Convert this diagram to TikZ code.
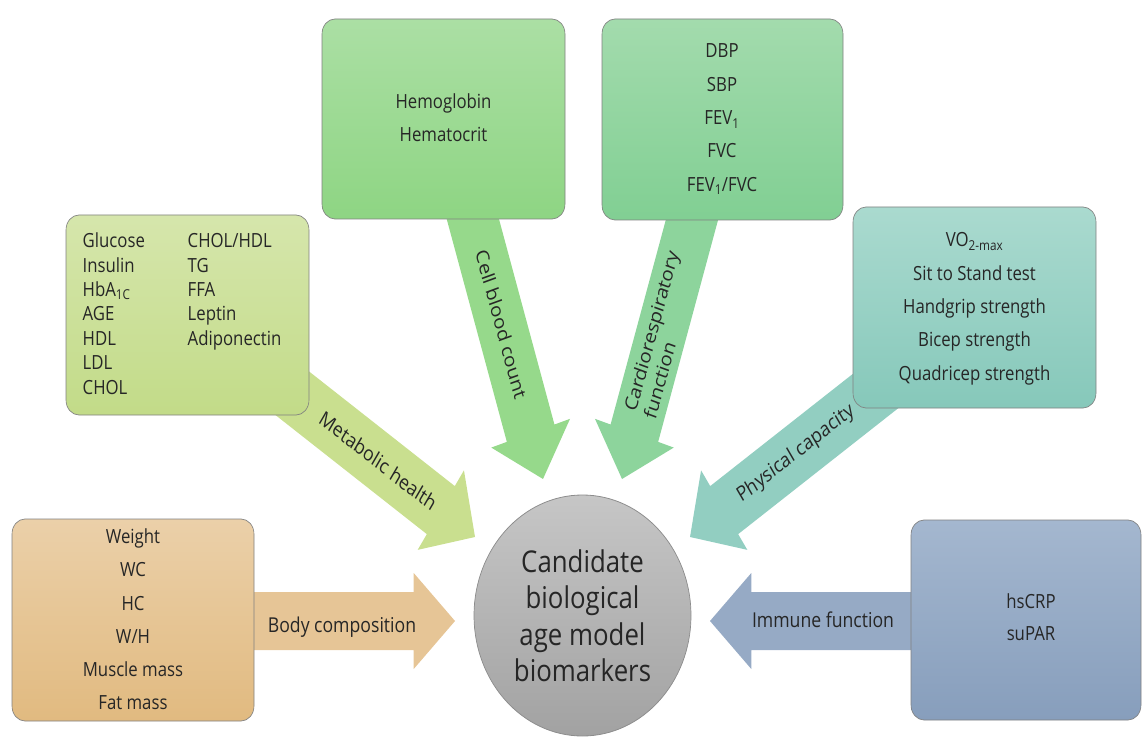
\documentclass[tikz,border=0pt]{standalone}
\usepackage{fontspec}
\setmainfont{Open Sans}
\usetikzlibrary{calc,fit,shapes.geometric}

\definecolor{metT}{HTML}{D6E6AC}\definecolor{metB}{HTML}{C2DB88}\definecolor{metA}{HTML}{C9DF8F}
\definecolor{cbcT}{HTML}{ABDFA4}\definecolor{cbcB}{HTML}{8ED583}\definecolor{cbcA}{HTML}{96D98B}
\definecolor{carT}{HTML}{A3DBAD}\definecolor{carB}{HTML}{81CF93}\definecolor{carA}{HTML}{8DD49C}
\definecolor{phyT}{HTML}{AADACF}\definecolor{phyB}{HTML}{86C8BA}\definecolor{phyA}{HTML}{92CEC1}
\definecolor{bodT}{HTML}{EBD0A9}\definecolor{bodB}{HTML}{E1BA80}\definecolor{bodA}{HTML}{E6C596}
\definecolor{immT}{HTML}{A4B7CF}\definecolor{immB}{HTML}{879EBC}\definecolor{immA}{HTML}{96AAC5}
\definecolor{coreT}{HTML}{C6C6C6}\definecolor{coreB}{HTML}{A2A2A2}
\definecolor{ink}{HTML}{262626}

% #1 tail, #2 tip, #3 fill colour, #4 name prefix
\newcommand\blockarrow[4]{%
  \coordinate (#4base) at ($(#2)!48pt!(#1)$);
  \fill[#3] ($(#1)!29pt!90:(#2)$) -- ($(#4base)!29pt!90:(#2)$) -- ($(#4base)!48pt!90:(#2)$)
     -- (#2) -- ($(#4base)!48pt!-90:(#2)$) -- ($(#4base)!29pt!-90:(#2)$)
     -- ($(#1)!29pt!-90:(#2)$) -- cycle;
}

\tikzset{
  box/.style={draw=black!50, line width=0.7pt, rounded corners=15pt, inner sep=0pt},
  txt/.style={anchor=base, inner sep=0pt, text=ink, font=\fontsize{19.5}{23}\selectfont},
  txtl/.style={txt, anchor=base west},
  lbl/.style={inner sep=0pt, text=ink, font=\fontsize{20.5}{24}\selectfont},
}

\begin{document}
\begin{tikzpicture}[x=1pt,y=-1pt]
\useasboundingbox (0,0) rectangle (1143,738);
\begin{scope}[transform canvas={xscale=0.86}, x=1.16279pt]

% arrow end points
\coordinate (tailM) at (250,360); \coordinate (tipM) at (475,537);
\coordinate (tailC) at (465,190); \coordinate (tipC) at (543,479);
\coordinate (tailR) at (700,190); \coordinate (tipR) at (622,479);
\coordinate (tailP) at (915,360); \coordinate (tipP) at (690,537);
\coordinate (tailB) at (200,621); \coordinate (tipB) at (455,621);
\coordinate (tailI) at (1000,621); \coordinate (tipI) at (710,621);

% block arrows
\blockarrow{tailM}{tipM}{metA}{aM}
\blockarrow{tailC}{tipC}{cbcA}{aC}
\blockarrow{tailR}{tipR}{carA}{aR}
\blockarrow{tailP}{tipP}{phyA}{aP}
\blockarrow{tailB}{tipB}{bodA}{aB}
\blockarrow{tailI}{tipI}{immA}{aI}

% arrow labels
\path (tailM) -- (tipM) node[lbl, sloped, pos=0.57] (lM) {Metabolic health};
\path (tailC) -- (tipC) node[lbl, sloped, pos=0.465] (lC) {Cell blood count};
\path (tipR) -- (tailR) node[lbl, sloped, pos=0.5, align=left] (lR) {Cardiorespiratory\\function};
\path (tipP) -- (tailP) node[lbl, sloped, pos=0.47] (lP) {Physical capacity};
\node[lbl, anchor=base] (lB) at (342,632) {Body composition};
\node[lbl, anchor=base] (lI) at (823,627) {Immune function};

% boxes
\node[box, top color=metT, bottom color=metB, fit={(66,215) (309,415)}] (met) {};
\node[box, top color=cbcT, bottom color=cbcB, fit={(322,19) (565,219)}] (cbc) {};
\node[box, top color=carT, bottom color=carB, fit={(602,19) (843,220)}] (car) {};
\node[box, top color=phyT, bottom color=phyB, fit={(853,207) (1096,408)}] (phy) {};
\node[box, top color=bodT, bottom color=bodB, fit={(12,519) (254,721)}] (bod) {};
\node[box, top color=immT, bottom color=immB, fit={(911,520) (1141,720)}] (imm) {};

% centre ellipse
\node[ellipse, draw=black!45, line width=0.8pt, top color=coreT, bottom color=coreB,
      minimum width=252.3pt, minimum height=241pt, inner sep=0pt, align=center, text=ink,
      font=\fontsize{30}{36.5}\selectfont] (core) at (582.5,615.5)
      {Candidate\\biological\\age model\\biomarkers};

% metabolic health texts
\node[txtl] (m1) at (82.5,247.5) {Glucose};
\node[txtl] (m2) at (82.5,272) {Insulin};
\node[txtl] (m3) at (82.5,296) {HbA\textsubscript{1C}};
\node[txtl] (m4) at (82.5,320.5) {AGE};
\node[txtl] (m5) at (82.5,345) {HDL};
\node[txtl] (m6) at (82.5,369.5) {LDL};
\node[txtl] (m7) at (82.5,394) {CHOL};
\node[txtl] (m8) at (187.5,247.5) {CHOL/HDL};
\node[txtl] (m9) at (187.5,272) {TG};
\node[txtl] (m10) at (187.5,296) {FFA};
\node[txtl] (m11) at (187.5,320.5) {Leptin};
\node[txtl] (m12) at (187.5,345) {Adiponectin};

% cell blood count texts
\node[txt] (c1) at (443.5,109) {Hemoglobin};
\node[txt] (c2) at (443.5,141.5) {Hematocrit};

% cardiorespiratory texts
\node[txt] (r1) at (722,58) {DBP};
\node[txt] (r2) at (722,91.5) {SBP};
\node[txt] (r3) at (722,125) {FEV\textsubscript{1}};
\node[txt] (r4) at (722,158) {FVC};
\node[txt] (r5) at (722,191.5) {FEV\textsubscript{1}/FVC};

% physical capacity texts
\node[txt] (p1) at (974.5,247) {VO\textsubscript{2-max}};
\node[txt] (p2) at (974.5,280) {Sit to Stand test};
\node[txt] (p3) at (974.5,313) {Handgrip strength};
\node[txt] (p4) at (974.5,346) {Bicep strength};
\node[txt] (p5) at (974.5,380) {Quadricep strength};

% body composition texts
\node[txt] (b1) at (133,543) {Weight};
\node[txt] (b2) at (133,576) {WC};
\node[txt] (b3) at (133,610) {HC};
\node[txt] (b4) at (133,643) {W/H};
\node[txt] (b5) at (133,676) {Muscle mass};
\node[txt] (b6) at (133,709) {Fat mass};

% immune function texts
\node[txt] (i1) at (1031,608) {hsCRP};
\node[txt] (i2) at (1031,640) {suPAR};

\end{scope}
\end{tikzpicture}
\end{document}
